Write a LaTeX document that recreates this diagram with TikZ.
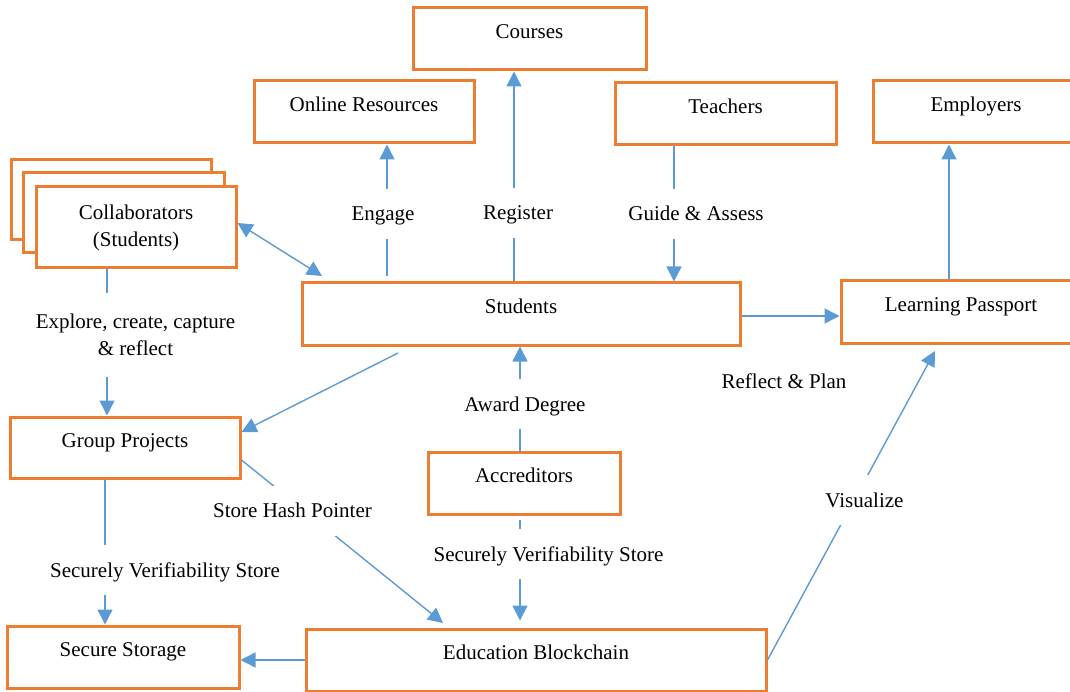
\documentclass[tikz,border=0pt]{standalone}
\usepackage{fontspec}
\setmainfont{Liberation Serif}
\usetikzlibrary{arrows.meta,calc}
\definecolor{boxorange}{HTML}{ED7D31}
\definecolor{linkblue}{HTML}{5B9BD5}
\begin{document}
\begin{tikzpicture}[x=1pt,y=-1pt,
  every node/.style={font=\fontsize{21}{27}\selectfont},
  box/.style={draw=boxorange, line width=3pt, fill=white, inner sep=0pt,
    text height=30.5pt, text depth=31.5pt},
  stackbox/.style={draw=boxorange, line width=3pt, fill=white, inner sep=0pt, align=center},
  link/.style={draw=linkblue, line width=1.4pt, -{Triangle[length=15pt,width=15pt]}},
  both/.style={draw=linkblue, line width=1.4pt,
    {Triangle[length=15pt,width=15pt]}-{Triangle[length=15pt,width=15pt]}},
  tag/.style={fill=white, inner xsep=3pt, inner ysep=0pt, minimum height=50pt,
    text height=19pt, text depth=5pt},
  tagtwo/.style={fill=white, inner xsep=3pt, inner ysep=0pt, minimum height=84pt, align=center}]
\useasboundingbox (0,0) rectangle (1070,692);
\clip (0,0) rectangle (1070,692);

% boxes
\node[box, minimum width=233pt] (crs) at (529.5,39) {Courses};
\node[box, minimum width=220pt] (onl) at (364,112) {Online Resources};
\node[box, minimum width=221pt] (tea) at (725.5,114) {Teachers};
\node[box, minimum width=206pt] (emp) at (976,112) {Employers};
\node[stackbox, minimum width=200pt, minimum height=80pt] (colb) at (111,200) {};
\node[stackbox, minimum width=201pt, minimum height=80pt] (colm) at (123.5,213) {};
\node[stackbox, minimum width=200pt, minimum height=81pt] (col) at (136,227.5) {Collaborators\\(Students)};
\node[box, minimum width=438pt] (stu) at (521,314) {Students};
\node[box, minimum width=240pt] (lp) at (961,312) {Learning Passport};
\node[box, minimum width=230pt, text depth=30.5pt] (gp) at (125,447.5) {Group Projects};
\node[box, minimum width=192pt] (acc) at (524,483) {Accreditors};
\node[box, minimum width=232pt] (ss) at (123,657) {Secure Storage};
\node[box, minimum width=460pt] (eb) at (536,660) {Education Blockchain};

% free ends of the slanted connectors
\coordinate (stuTip) at (322,276);
\coordinate (stuOut) at (398,353);
\coordinate (ebIn) at (443,623);
\coordinate (lpIn) at (935,351);

% connectors
\draw[link, shorten <=5pt] (stu.north -| 387,0) -- (onl.south -| 387,0);
\draw[link] (stu.north -| 514,0) -- (crs.south -| 514,0);
\draw[link] (tea.south -| 674,0) -- (stu.north -| 674,0);
\draw[link] (lp.north -| 949,0) -- (emp.south -| 949,0);
\draw[link] (stu.east |- 0,316) -- (lp.west |- 0,316);
\draw[both] (col.east |- 0,223) -- (stuTip);
\draw[link] (col.south -| 107,0) -- (gp.north -| 107,0);
\draw[link] (stuOut) -- (gp.east |- 0,432);
\draw[link] (gp.east |- 0,460) -- (ebIn);
\draw[link] (gp.south -| 105,0) -- (ss.north -| 105,0);
\draw[link] (acc.north -| 520,0) -- (stu.south -| 520,0);
\draw[link, shorten <=4pt, shorten >=7pt] (acc.south -| 520,0) -- (eb.north -| 520,0);
\draw[link] (eb.west |- 0,660) -- (ss.east |- 0,660);
\draw[link] (eb.east |- 0,660) -- (lpIn);

% connector labels
\node[tag] (lEngage) at (383,214) {Engage};
\node[tag] (lRegister) at (518,213) {Register};
\node[tag] (lGuide) at (696,214) {Guide \& Assess};
\node[tagtwo] (lExplore) at (135.5,335) {Explore, create, capture\\\& reflect};
\node[tag] (lAward) at (525,404) {Award Degree};
\node[tag] (lSecureA) at (548.5,554) {Securely Verifiability Store};
\node[tag] (lSecureG) at (165,570) {Securely Verifiability Store};
\node[tag] (lHash) at (292.5,510.5) {Store Hash Pointer};
\node[tag] (lVis) at (864.5,500) {Visualize};
\node[tag] (lReflect) at (784,381.5) {Reflect \& Plan};
\end{tikzpicture}
\end{document}
